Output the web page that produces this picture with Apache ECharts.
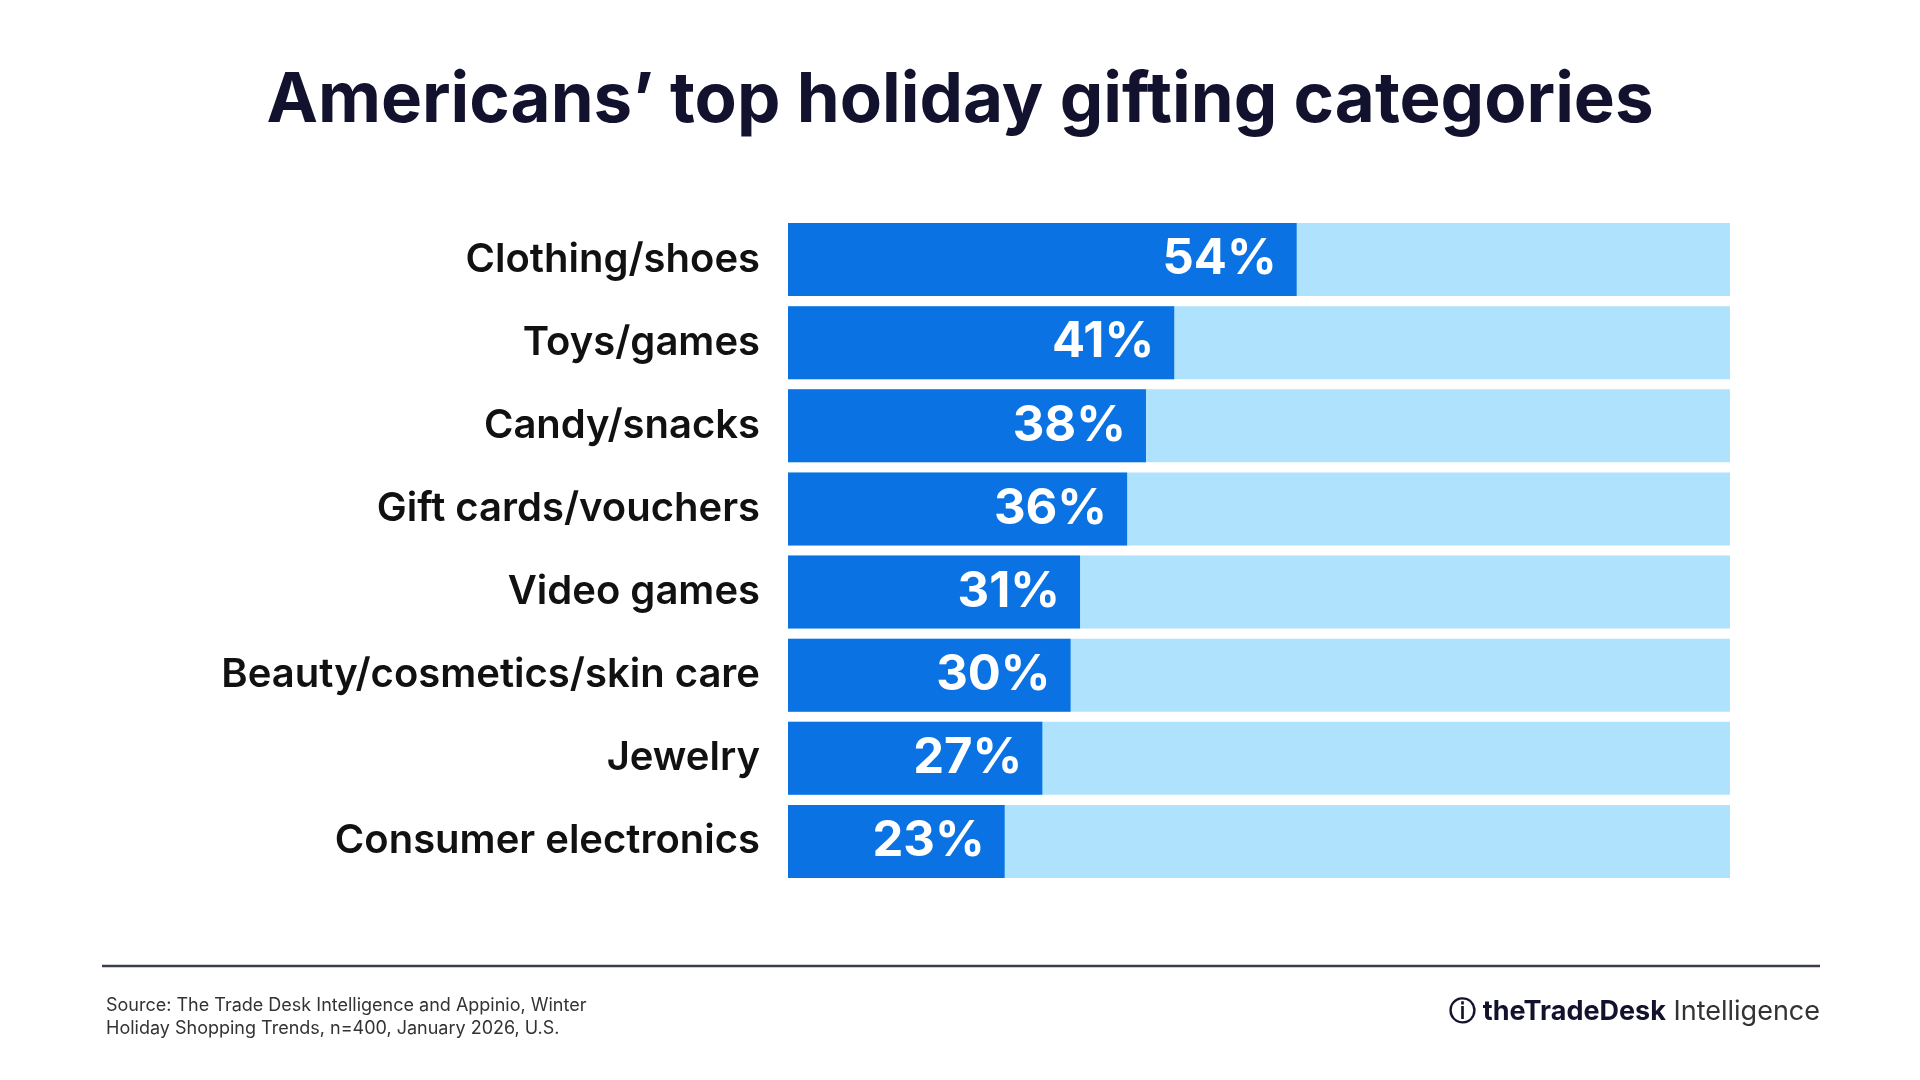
<!DOCTYPE html>
<html><head><meta charset="utf-8">
<script src="https://cdn.jsdelivr.net/npm/echarts@6/dist/echarts.min.js"></script>
<style>html,body{margin:0;padding:0;background:#fff}#c{width:1920px;height:1080px}</style>
</head><body><div id="c"></div>
<script>
const categories = ["Clothing/shoes","Toys/games","Candy/snacks","Gift cards/vouchers","Video games","Beauty/cosmetics/skin care","Jewelry","Consumer electronics"];
const values = [54,41,38,36,31,30,27,23];
const totals = categories.map(() => 100);
const chart = echarts.init(document.getElementById('c'));
chart.setOption({
  backgroundColor:'#fff',
  animation:false,
  title:{text:"Americans’ top holiday gifting categories",left:'center',top:62,
    textStyle:{fontFamily:'Inter',fontWeight:'bold',fontSize:69,color:'#12122e'}},
  grid:{left:788,right:190,top:218,bottom:197},
  xAxis:{type:'value',min:0,max:100,show:false},
  yAxis:{type:'category',data:categories,inverse:true,
    axisLine:{show:false},axisTick:{show:false},
    axisLabel:{margin:28,fontFamily:'Inter',fontWeight:600,fontSize:40,color:'#111'}},
  series:[
    {type:'bar',data:totals,barWidth:73,barGap:'-100%',itemStyle:{color:'#aee2fd'},silent:true,z:1},
    {type:'bar',data:values,barWidth:73,itemStyle:{color:'#0a72e3'},z:2,
      label:{show:true,position:'insideRight',distance:20,formatter:'{c}%',
        fontFamily:'Inter',fontWeight:'bold',fontSize:49,color:'#fff'}}
  ],
  graphic:[
    {type:'line',shape:{x1:102,y1:966,x2:1820,y2:966},style:{stroke:'#3a3d4a',lineWidth:2.5}},
    {type:'text',left:106,top:994,style:{text:'Source: The Trade Desk Intelligence and Appinio, Winter\nHoliday Shopping Trends, n=400, January 2026, U.S.',
      font:'18px Inter',fill:'#333',lineHeight:23}},
    {type:'text',right:100,top:998,style:{rich:{a:{font:'bold 27px Inter',fill:'#12122e'},b:{font:'27px Inter',fill:'#333'}},
      text:'{a|ⓘ theTradeDesk}{b| Intelligence}'}}
  ]
});
</script></body></html>
